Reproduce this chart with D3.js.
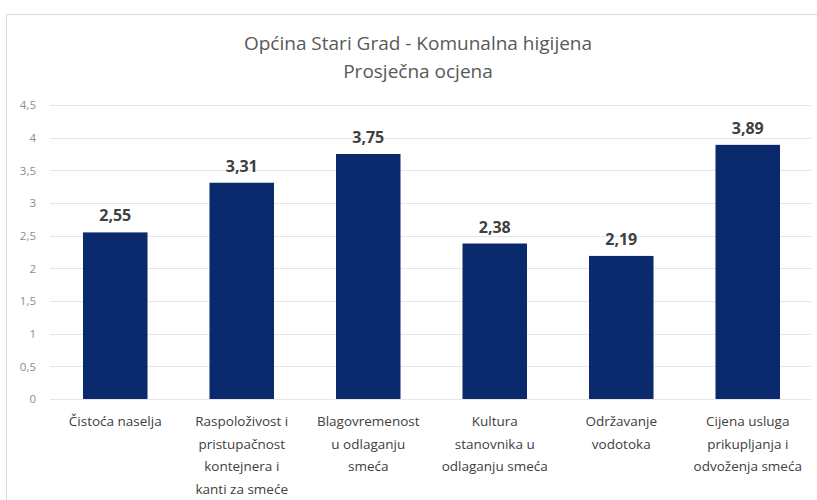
<!DOCTYPE html>
<html>
<head>
<meta charset="utf-8">
<script src="https://cdn.jsdelivr.net/npm/d3@7"></script>
<style>
  body { margin: 0; background: #fff; }
  svg { display: block; font-family: "Open Sans", Lato, sans-serif; }
</style>
</head>
<body>
<svg id="chart" width="817" height="500"></svg>
<script>
// Bar chart: average grade per communal hygiene category

const categories = [
  ['Čistoća naselja'],
  ['Raspoloživost i', 'pristupačnost', 'kontejnera i', 'kanti za smeće'],
  ['Blagovremenost', 'u odlaganju', 'smeća'],
  ['Kultura', 'stanovnika u', 'odlaganju smeća'],
  ['Održavanje', 'vodotoka'],
  ['Cijena usluga', 'prikupljanja i', 'odvoženja smeća']
];
const values = [2.55, 3.31, 3.75, 2.38, 2.19, 3.89];
const yTicks = [0, 0.5, 1, 1.5, 2, 2.5, 3, 3.5, 4, 4.5];
const titleLines = ['Općina Stari Grad - Komunalna higijena', 'Prosječna ocjena'];

const fmt = v => String(v).replace('.', ',');

const svg = d3.select('#chart');

// Chart frame (only top and left edges visible in the crop)
svg.append('path')
  .attr('d', 'M 6.5 500 L 6.5 14.5 L 817 14.5')
  .attr('fill', 'none')
  .attr('stroke', '#d9d9d9')
  .attr('stroke-width', 1);

const x = d3.scaleBand()
  .domain(d3.range(values.length))
  .range([52, 811])
  .paddingInner(0.49)
  .paddingOuter(0.245);

const y = d3.scaleLinear()
  .domain([0, 4.5])
  .range([399, 105]);

// Title
svg.append('g').selectAll('text')
  .data(titleLines)
  .join('text')
  .attr('x', 418)
  .attr('y', (d, i) => 50 + i * 28)
  .attr('text-anchor', 'middle')
  .attr('font-size', 19)
  .attr('fill', '#595959')
  .text(d => d);

// Gridlines
svg.append('g').selectAll('line')
  .data(yTicks)
  .join('line')
  .attr('x1', 50)
  .attr('x2', 811)
  .attr('y1', d => Math.round(y(d)) + 0.5)
  .attr('y2', d => Math.round(y(d)) + 0.5)
  .attr('stroke', '#e6e6e6')
  .attr('stroke-width', 1);

// Y axis labels
const yAxis = svg.append('g')
  .attr('transform', 'translate(36,0)')
  .call(d3.axisLeft(y).tickValues(yTicks).tickFormat(fmt).tickSize(0).tickPadding(0));
yAxis.select('.domain').remove();
yAxis.selectAll('text')
  .attr('font-family', '"Open Sans", Lato, sans-serif')
  .attr('font-size', 11.5)
  .attr('fill', '#8c8c8c');

// Bars
svg.append('g').selectAll('rect')
  .data(values)
  .join('rect')
  .attr('x', (d, i) => x(i))
  .attr('y', d => y(d))
  .attr('width', x.bandwidth())
  .attr('height', d => y(0) - y(d))
  .attr('fill', '#0a2a6d');

// Value labels
svg.append('g').selectAll('text')
  .data(values)
  .join('text')
  .attr('x', (d, i) => x(i) + x.bandwidth() / 2)
  .attr('y', d => y(d) - 11)
  .attr('text-anchor', 'middle')
  .attr('font-size', 16)
  .attr('font-weight', 'bold')
  .attr('fill', '#404040')
  .text(fmt);

// Category labels
const cat = svg.append('g').selectAll('text')
  .data(categories)
  .join('text')
  .attr('x', (d, i) => x(i) + x.bandwidth() / 2)
  .attr('y', 426)
  .attr('text-anchor', 'middle')
  .attr('font-size', 13.5)
  .attr('fill', '#404040');
cat.selectAll('tspan')
  .data(d => d)
  .join('tspan')
  .attr('x', function () { return d3.select(this.parentNode).attr('x'); })
  .attr('dy', (d, i) => i === 0 ? 0 : 22.5)
  .text(d => d);
</script>
</body>
</html>
